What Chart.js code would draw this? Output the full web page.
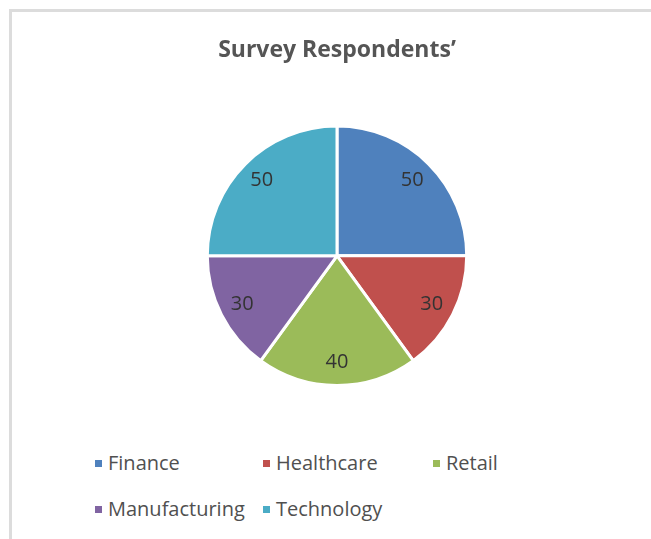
<!DOCTYPE html>
<html lang="en">
<head>
    <meta charset="UTF-8">
    <title>Survey Respondents'</title>
    <script src="https://cdn.jsdelivr.net/npm/chart.js"></script>
    <style>
        body { margin: 0; background: #fff; width: 651px; height: 539px; overflow: hidden; position: relative; }
        .frame { position: absolute; left: 9px; top: 9px; width: 700px; height: 600px;
                 border-left: 3px solid #dcdcdc; border-top: 3px solid #dcdcdc; }
        #chartBox { position: absolute; left: 12px; top: 12px; width: 639px; height: 390px; }
        #legend { position: absolute; left: 95px; top: 448px; display: grid;
                  grid-template-columns: 168px 170px auto; row-gap: 18px;
                  font-family: 'Open Sans', sans-serif; font-size: 20px; color: #505050; }
        #legend .item { display: flex; align-items: center; height: 28px; white-space: nowrap; }
        #legend .box { width: 7px; height: 7px; margin-right: 6px; margin-top: 2px; }
    </style>
</head>
<body>
    <div class="frame"></div>
    <div id="chartBox"><canvas id="pieChart" width="639" height="390"></canvas></div>
    <div id="legend"></div>
    <script>
        // Dados da pesquisa
        const categories = ['Finance', 'Healthcare', 'Retail', 'Manufacturing', 'Technology'];
        const respondents = [50, 30, 40, 30, 50];
        const sliceColors = ['#4F81BD', '#C0504D', '#9BBB59', '#8064A2', '#4BACC6'];

        // Rótulos de valor dentro das fatias
        const valueLabels = {
            id: 'valueLabels',
            afterDatasetsDraw(chart) {
                const ctx = chart.ctx;
                const meta = chart.getDatasetMeta(0);
                ctx.save();
                ctx.font = '20px "Open Sans", sans-serif';
                ctx.fillStyle = '#333333';
                ctx.textAlign = 'center';
                ctx.textBaseline = 'middle';
                meta.data.forEach((arc, i) => {
                    const p = arc.getProps(['x', 'y', 'startAngle', 'endAngle', 'outerRadius'], true);
                    const mid = (p.startAngle + p.endAngle) / 2;
                    const r = p.outerRadius * 0.82;
                    ctx.fillText(String(chart.data.datasets[0].data[i]), p.x + Math.cos(mid) * r, p.y + Math.sin(mid) * r);
                });
                ctx.restore();
            }
        };

        const ctx = document.getElementById('pieChart').getContext('2d');
        const pieChart = new Chart(ctx, {
            type: 'pie',
            data: {
                labels: categories,
                datasets: [{
                    data: respondents,
                    backgroundColor: sliceColors,
                    borderColor: '#ffffff',
                    borderWidth: 3
                }]
            },
            options: {
                responsive: false,
                animation: false,
                layout: { padding: { left: 11, right: 0, top: 0, bottom: 15 } },
                plugins: {
                    legend: { display: false },
                    tooltip: { enabled: false },
                    title: {
                        display: true,
                        text: "Survey Respondents\u2019",
                        color: '#555555',
                        font: { family: "'Open Sans', sans-serif", size: 23, weight: 'bold' },
                        padding: { top: 25, bottom: 60 }
                    }
                }
            },
            plugins: [valueLabels]
        });

        // Legenda em HTML, montada a partir dos dados do gráfico
        const legendEl = document.getElementById('legend');
        pieChart.data.labels.forEach((label, i) => {
            const item = document.createElement('div');
            item.className = 'item';
            const box = document.createElement('span');
            box.className = 'box';
            box.style.background = pieChart.data.datasets[0].backgroundColor[i];
            const text = document.createElement('span');
            text.textContent = label;
            item.appendChild(box);
            item.appendChild(text);
            legendEl.appendChild(item);
        });
    </script>
</body>
</html>
